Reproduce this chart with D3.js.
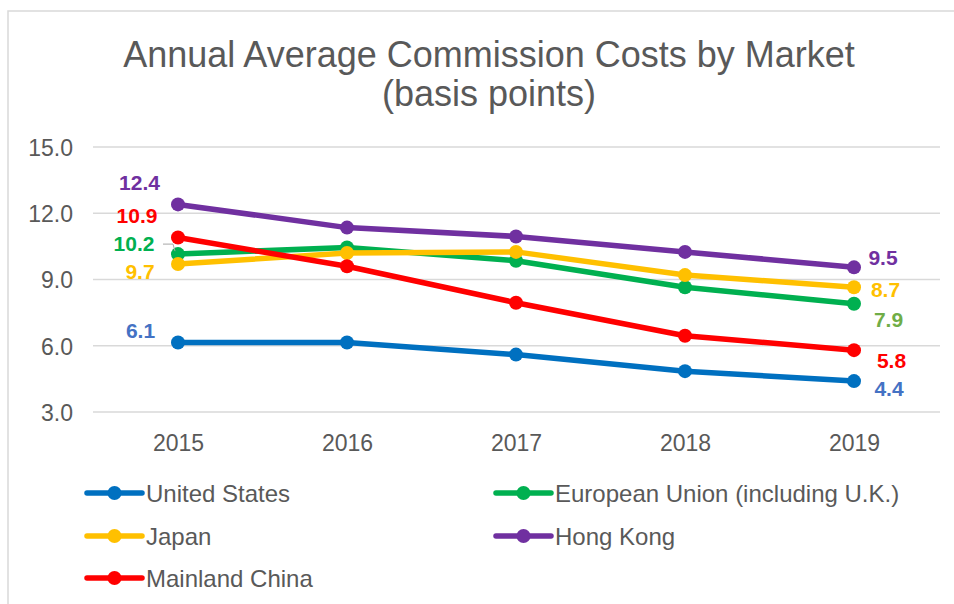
<!DOCTYPE html>
<html>
<head>
<meta charset="utf-8">
<script src="https://cdn.jsdelivr.net/npm/d3@7.9.0/dist/d3.min.js"></script>
<style>
  body { margin: 0; background: #fff; }
  svg { font-family: "Liberation Sans", Arial, sans-serif; }
</style>
</head>
<body>
<svg id="chart" width="954" height="604"></svg>
<script>
const years = ['2015', '2016', '2017', '2018', '2019'];
const yTicks = [3, 6, 9, 12, 15];

const unitedStates = [6.15, 6.15, 5.6, 4.85, 4.4];
const europeanUnion = [10.15, 10.45, 9.85, 8.65, 7.9];
const japan = [9.7, 10.2, 10.25, 9.2, 8.65];
const hongKong = [12.4, 11.35, 10.95, 10.25, 9.55];
const mainlandChina = [10.9, 9.6, 7.95, 6.45, 5.8];

const series = [
  { name: 'United States', values: unitedStates, color: '#0070C0', labelColor: '#4472C4', first: '6.1', last: '4.4' },
  { name: 'European Union (including U.K.)', values: europeanUnion, color: '#00B050', labelColor: '#00B050', lastColor: '#70AD47', first: '10.2', last: '7.9' },
  { name: 'Japan', values: japan, color: '#FFC000', labelColor: '#FFC000', first: '9.7', last: '8.7' },
  { name: 'Hong Kong', values: hongKong, color: '#7030A0', labelColor: '#7030A0', first: '12.4', last: '9.5' },
  { name: 'Mainland China', values: mainlandChina, color: '#FF0000', labelColor: '#FF0000', first: '10.9', last: '5.8' }
];

const svg = d3.select('#chart');

// chart frame
svg.append('rect')
  .attr('x', 8).attr('y', 11)
  .attr('width', 960).attr('height', 610)
  .attr('fill', 'none').attr('stroke', '#d9d9d9').attr('stroke-width', 1.5);

svg.append('text')
  .attr('x', 489).attr('y', 67)
  .attr('text-anchor', 'middle')
  .attr('font-size', 36).attr('fill', '#595959')
  .text('Annual Average Commission Costs by Market');
svg.append('text')
  .attr('x', 489).attr('y', 106)
  .attr('text-anchor', 'middle')
  .attr('font-size', 36).attr('fill', '#595959')
  .text('(basis points)');

const x = d3.scalePoint().domain(years).range([178, 854]);
const y = d3.scaleLinear().domain([3, 15]).range([412, 147]);

// gridlines
svg.append('g')
  .selectAll('line')
  .data(yTicks)
  .join('line')
  .attr('x1', 93).attr('x2', 940)
  .attr('y1', d => y(d)).attr('y2', d => y(d))
  .attr('stroke', '#d9d9d9').attr('stroke-width', 1.5);

// y axis labels
const yAxis = svg.append('g')
  .attr('transform', 'translate(73,0)')
  .call(d3.axisLeft(y).tickValues(yTicks).tickFormat(d3.format('.1f')).tickSize(0).tickPadding(0));
yAxis.select('.domain').remove();
yAxis.selectAll('text')
  .attr('font-size', 23).attr('fill', '#595959')
  .attr('dy', '0.36em')
  .attr('font-family', '"Liberation Sans", Arial, sans-serif');

// x axis labels
const xAxis = svg.append('g')
  .attr('transform', 'translate(0,451)')
  .call(d3.axisBottom(x).tickSize(0).tickPadding(0));
xAxis.select('.domain').remove();
xAxis.selectAll('text')
  .attr('dy', 0)
  .attr('font-size', 23).attr('fill', '#595959')
  .attr('font-family', '"Liberation Sans", Arial, sans-serif');

const line = d3.line().x((d, i) => x(years[i])).y(d => y(d));

series.forEach(s => {
  const g = svg.append('g');
  g.append('path')
    .attr('d', line(s.values))
    .attr('fill', 'none')
    .attr('stroke', s.color)
    .attr('stroke-width', 5.5)
    .attr('stroke-linejoin', 'round');
  g.selectAll('circle')
    .data(s.values)
    .join('circle')
    .attr('cx', (d, i) => x(years[i]))
    .attr('cy', d => y(d))
    .attr('r', 7)
    .attr('fill', s.color);
});

// data labels: offsets (center x, baseline y) from the point
const firstOffsets = {
  'United States': [-37.5, -4.5],
  'European Union (including U.K.)': [-44, -3],
  'Japan': [-38, 14.5],
  'Hong Kong': [-38.5, -14.5],
  'Mainland China': [-41, -15]
};
const lastOffsets = {
  'United States': [35, 15],
  'European Union (including U.K.)': [34.5, 23],
  'Japan': [31.5, 9.5],
  'Hong Kong': [29, -2],
  'Mainland China': [37.5, 17.5]
};

series.forEach(s => {
  const f = firstOffsets[s.name];
  svg.append('text')
    .attr('x', x(years[0]) + f[0])
    .attr('y', y(s.values[0]) + f[1])
    .attr('text-anchor', 'middle')
    .attr('font-size', 21).attr('font-weight', 'bold')
    .attr('fill', s.labelColor)
    .text(s.first);
  const l = lastOffsets[s.name];
  svg.append('text')
    .attr('x', x(years[4]) + l[0])
    .attr('y', y(s.values[4]) + l[1])
    .attr('text-anchor', 'middle')
    .attr('font-size', 21).attr('font-weight', 'bold')
    .attr('fill', s.lastColor || s.labelColor)
    .text(s.last);
});

// leader line for EU 2015 label
svg.append('path')
  .attr('d', `M${x(years[0]) - 15},${y(europeanUnion[0]) - 10} H${x(years[0]) - 5} L${x(years[0]) - 3},${y(europeanUnion[0]) - 3}`)
  .attr('fill', 'none').attr('stroke', '#a6a6a6').attr('stroke-width', 1);

// legend
const legendPos = [
  [87, 493], [496, 493],
  [87, 536], [496, 536],
  [87, 578]
];
const legend = svg.append('g');
series.forEach((s, i) => {
  const [lx, ly] = legendPos[i];
  const item = legend.append('g').attr('transform', `translate(${lx},${ly})`);
  item.append('line')
    .attr('x1', 0).attr('x2', 55)
    .attr('stroke', s.color).attr('stroke-width', 5.5)
    .attr('stroke-linecap', 'round');
  item.append('circle')
    .attr('cx', 27.5).attr('r', 7).attr('fill', s.color);
  item.append('text')
    .attr('x', 59).attr('y', 8.5)
    .attr('font-size', 24).attr('fill', '#595959')
    .text(s.name);
});
</script>
</body>
</html>
